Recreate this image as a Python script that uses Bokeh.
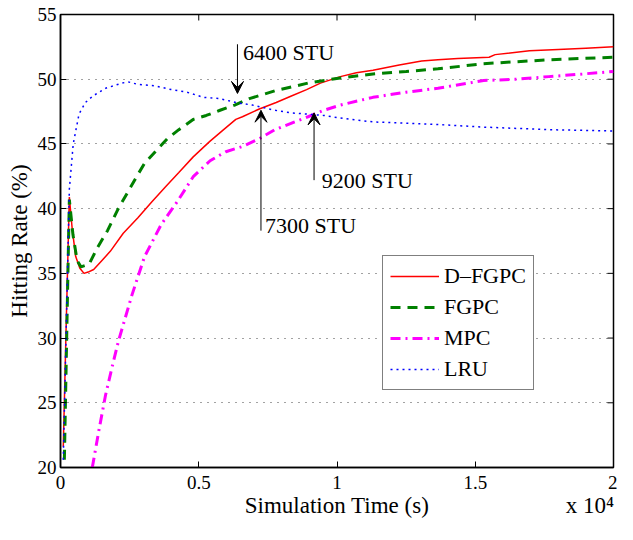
import math
from bokeh.plotting import figure
from bokeh.models import (Range1d, FixedTicker, Arrow, VeeHead, Label, Legend, LegendItem,
                          LinearAxis)
from bokeh.embed import file_html
from bokeh.resources import INLINE

# ---------------- data ----------------
dfgpc_t = [100, 200, 320, 420, 550, 700, 850, 1000, 1200, 1500, 1800, 2270, 2800, 3290,
           3800, 4280, 4800, 5400, 5900, 6340, 6580, 7190, 7800, 8350, 8900, 9400, 10120,
           10700, 11300, 12250, 13060, 13650, 14370, 15500, 15720, 16960, 18000, 19000, 20000]
dfgpc_v = [21.6, 30.5, 40.9, 38.5, 36.3, 35.4, 35.0, 35.1, 35.3, 36.0, 36.7, 38.1, 39.3, 40.5,
           41.7, 42.8, 44.0, 45.2, 46.1, 46.9, 47.1, 47.7, 48.2, 48.7, 49.2, 49.7, 50.2,
           50.5, 50.7, 51.1, 51.4, 51.5, 51.6, 51.7, 51.9, 52.2, 52.3, 52.4, 52.5]

fgpc_t = [140, 250, 320, 450, 600, 740, 1030, 1340, 1700, 2090, 2440, 2760, 3040, 3470, 3860,
          4280, 4810, 5270, 5770, 6300, 6830, 7750, 8950, 10120, 11300, 12500, 13650, 15300,
          17660, 20000]
fgpc_v = [20.6, 33.0, 40.7, 38.0, 36.0, 35.5, 35.7, 37.0, 38.3, 40.0, 41.3, 42.5, 43.5, 44.5, 45.4,
          46.1, 46.9, 47.2, 47.6, 48.0, 48.5, 49.1, 49.7, 50.1, 50.4, 50.6, 50.8, 51.2,
          51.5, 51.7]

mpc_t = [1150, 1400, 1630, 1870, 2100, 2580, 3040, 3650, 4210, 4810, 5410, 5980, 6580, 7190,
         7750, 8950, 9520, 10120, 11300, 12500, 13650, 15300, 16500, 17660, 18870, 20000]
mpc_v = [20.0, 23.0, 25.6, 27.8, 29.8, 33.3, 36.3, 38.8, 40.5, 42.5, 43.7, 44.4, 44.8, 45.4,
         46.1, 47.1, 47.6, 48.0, 48.6, 49.0, 49.3, 49.9, 50.0, 50.2, 50.4, 50.6]

lru_t = [100, 200, 320, 460, 670, 900, 1170, 1630, 2230, 2440, 2800, 3400, 4000, 4570, 5170,
         5770, 6340, 6940, 7750, 8350, 8950, 9520, 10120, 11300, 12500, 13650, 15300, 16500,
         17660, 20000]
lru_v = [20.6, 30.0, 41.5, 45.0, 47.3, 48.2, 48.7, 49.3, 49.7, 49.8, 49.6, 49.5, 49.2, 49.0, 48.6,
         48.5, 48.2, 48.0, 47.6, 47.4, 47.3, 47.2, 47.0, 46.7, 46.6, 46.5, 46.3, 46.2,
         46.1, 46.0]

x_ticks = [0, 5000, 10000, 15000, 20000]
x_tick_labels = ["0", "0.5", "1", "1.5", "2"]
y_ticks = [20, 25, 30, 35, 40, 45, 50, 55]

# second row under the x axis: axis title and exponent note
x_title_row = {10000: "Simulation Time (s)", 19150: "x 10\u2074"}

# annotations: (label, arrow x, arrow start y, arrow end y, text x, text y)
annotations = [
    ("6400 STU", 6400, 52.7, 48.9, 6600, 52.1),
    ("7300 STU", 7250, 38.3, 47.6, 7400, 38.7),
    ("9200 STU", 9170, 42.2, 47.4, 9450, 42.2),
]

FONT = "Liberation Serif"
W, H = 617, 524

p = figure(width=W, height=H, output_backend="svg", toolbar_location=None,
           x_range=Range1d(0, 20000), y_range=Range1d(20, 55),
           min_border_left=60, min_border_right=4, min_border_top=14, min_border_bottom=57)
p.background_fill_color = "white"
p.border_fill_color = "white"
p.outline_line_color = "black"
p.outline_line_width = 1.5

# grid
p.xgrid.visible = False
p.ygrid.ticker = FixedTicker(ticks=y_ticks)
p.ygrid.grid_line_color = "#444444"
p.ygrid.grid_line_dash = "1 6"
p.ygrid.grid_line_width = 1

# main axes
xa = p.xaxis[0]
xa.ticker = FixedTicker(ticks=x_ticks)
xa.major_label_overrides = {t: l for t, l in zip(x_ticks, x_tick_labels)}
ya = p.yaxis[0]
ya.ticker = FixedTicker(ticks=y_ticks)
for ax in (xa, ya):
    ax.major_tick_in = 6
    ax.major_tick_out = 0
    ax.minor_tick_line_color = None
    ax.axis_line_width = 1.5
    ax.major_tick_line_width = 1
    ax.major_label_text_font = FONT
    ax.major_label_text_font_size = "19px"
    ax.major_label_text_color = "black"
    ax.axis_label_text_font = FONT
    ax.axis_label_text_font_size = "23px"
    ax.axis_label_text_font_style = "normal"
    ax.axis_label_text_color = "black"
ya.axis_label = "Hitting Rate (%)"
xa.major_label_standoff = 8
ya.major_label_standoff = 4
ya.axis_label_standoff = 3

# row with the x-axis title and the "x 10^4" note
xt = LinearAxis(ticker=FixedTicker(ticks=list(x_title_row.keys())),
                major_label_overrides=x_title_row)
xt.axis_line_color = None
xt.major_tick_line_color = None
xt.minor_tick_line_color = None
xt.major_tick_in = 0
xt.major_tick_out = 0
xt.major_label_standoff = 1
xt.major_label_text_font = FONT
xt.major_label_text_font_size = "23px"
xt.major_label_text_color = "black"
p.add_layout(xt, "below")

# mirrored inward ticks on top and right edges (clipped half of a dash marker)
p.scatter([20000] * len(y_ticks), y_ticks, marker="dash", size=12,
          line_color="black", line_width=1)
p.scatter(x_ticks, [55] * len(x_ticks), marker="dash", size=12, angle=math.pi / 2,
          line_color="black", line_width=1)

# series
r1 = p.line(dfgpc_t, dfgpc_v, line_color="#ff0000", line_width=1.5)
r2 = p.line(fgpc_t, fgpc_v, line_color="#008000", line_width=3, line_dash="10 7")
r3 = p.line(mpc_t, mpc_v, line_color="#ff00ff", line_width=3, line_dash="10 5 2 5")
r4 = p.line(lru_t, lru_v, line_color="#0000ff", line_width=1.5, line_dash="2 4")

legend = Legend(items=[LegendItem(label="D\u2013FGPC", renderers=[r1]),
                       LegendItem(label="FGPC", renderers=[r2]),
                       LegendItem(label="MPC", renderers=[r3]),
                       LegendItem(label="LRU", renderers=[r4])],
                location=(322, 77))
legend.border_line_color = "black"
legend.border_line_width = 1
legend.background_fill_color = "white"
legend.background_fill_alpha = 1
legend.label_text_font = FONT
legend.label_text_font_size = "22px"
legend.label_text_color = "black"
legend.glyph_width = 49
legend.glyph_height = 22
legend.label_height = 22
legend.spacing = 5
legend.padding = 7
legend.margin = 0
legend.label_standoff = 5
p.add_layout(legend)

for txt, ax_x, y0, y1, tx, ty in annotations:
    p.add_layout(Arrow(end=VeeHead(size=12, fill_color="black", line_color="black"),
                       x_start=ax_x, y_start=y0, x_end=ax_x, y_end=y1,
                       line_color="black", line_width=1))
    p.add_layout(Label(x=tx, y=ty, text=txt, text_font=FONT, text_font_size="22px",
                       text_baseline="middle", text_color="black"))

open("out.html", "w").write(file_html(p, INLINE))
